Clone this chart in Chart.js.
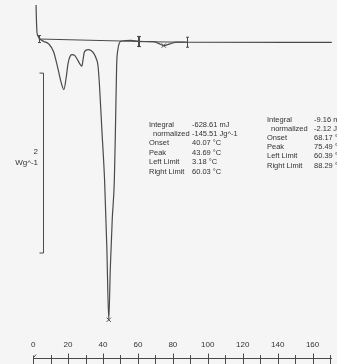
<!DOCTYPE html>
<html>
<head>
<meta charset="utf-8">
<script src="https://cdn.jsdelivr.net/npm/chart.js@4/dist/chart.umd.min.js"></script>
<style>
  html, body { margin: 0; padding: 0; background: #f5f5f5; }
  canvas { display: block; }
</style>
</head>
<body>
<canvas id="dsc" width="337" height="364"></canvas>
<script>
// DSC trace: temperature (°C) vs heat flow (W/g, 0 = baseline level)
const temps = [1.56, 1.8, 2.2, 2.8, 3.9, 6.1, 8.9, 11.7, 14.4, 16.1, 17.6, 18.9, 20.0, 21.1, 22.2,
  23.9, 25.6, 26.9, 27.9, 28.6, 29.4, 31.5, 33.3, 34.8, 36.1, 37.1, 37.9, 39.4, 40.9, 42.2, 43.3,
  44.2, 45.3, 46.5, 47.2, 47.8, 48.6, 49.4, 50.6, 56.1, 60.6, 68.9, 71.7, 74.8, 78.3, 82.2, 88.3, 171];
const heatFlow = [0.5, 0.28, 0.086, 0.043, 0.011, -0.016, -0.043, -0.13, -0.335, -0.476, -0.551, -0.42,
  -0.26, -0.184, -0.162, -0.173, -0.227, -0.27, -0.292, -0.216, -0.13, -0.108, -0.119, -0.151, -0.205,
  -0.281, -0.476, -1.016, -1.557, -2.31, -3.11, -2.53, -1.99, -1.557, -0.91, -0.292, -0.097, -0.032,
  -0.011, -0.005, -0.016, -0.019, -0.038, -0.062, -0.043, -0.024, -0.025, -0.027];

// integration limits and peaks
const limitTemps = [3.18, 60.03, 60.39, 88.29];
const limitFlow = [0.011, -0.016, -0.018, -0.025];
const peakTemps = [43.3, 74.8];
const peakFlow = [-3.11, -0.062];

const xTicks = [0, 20, 40, 60, 80, 100, 120, 140, 160];
const scaleBar = 2; // W/g
const scaleUnit = 'Wg^-1';

const resultLabels = ['Integral', 'normalized', 'Onset', 'Peak', 'Left Limit', 'Right Limit'];
const resultPeak1 = ['-628.61 mJ', '-145.51 Jg^-1', '40.07 °C', '43.69 °C', '3.18 °C', '60.03 °C'];
const resultPeak2 = ['-9.16 mJ', '-2.12 Jg^-1', '68.17 °C', '75.49 °C', '60.39 °C', '88.29 °C'];

const ink = '#4a4a4a';
const font = '"Liberation Sans", Arial, sans-serif';

const curve = temps.map((t, i) => ({ x: t, y: heatFlow[i] }));
const base1 = [{ x: limitTemps[0], y: limitFlow[0] }, { x: limitTemps[1], y: limitFlow[1] }];
const base2 = [{ x: limitTemps[2], y: limitFlow[2] }, { x: limitTemps[3], y: limitFlow[3] }];
const peaks = peakTemps.map((t, i) => ({ x: t, y: peakFlow[i] }));

const decor = {
  id: 'decor',
  beforeDraw(chart) {
    const c = chart.ctx;
    c.save();
    c.fillStyle = '#f5f5f5';
    c.fillRect(0, 0, chart.width, chart.height);
    c.restore();
  },
  afterDraw(chart) {
    const c = chart.ctx;
    const x = chart.scales.x, y = chart.scales.y;
    c.save();
    c.strokeStyle = ink;
    c.fillStyle = '#333';
    c.lineWidth = 1;

    // limit markers (small I-beams)
    limitTemps.forEach((t, i) => {
      const px = Math.round(x.getPixelForValue(t)) + 0.5;
      const py = y.getPixelForValue(limitFlow[i]);
      const h = i === 0 ? 3.5 : 5;
      c.beginPath();
      c.moveTo(px, py - h); c.lineTo(px, py + h);
      c.moveTo(px - 1.5, py - h); c.lineTo(px + 1.5, py - h);
      c.moveTo(px - 1.5, py + h); c.lineTo(px + 1.5, py + h);
      c.stroke();
    });

    // x axis
    const ay = 358.5;
    const x0 = x.getPixelForValue(0);
    c.beginPath();
    c.moveTo(x0, ay); c.lineTo(chart.chartArea.right, ay);
    for (let t = 10; t <= 170; t += 10) {
      const px = Math.round(x.getPixelForValue(t)) + 0.5;
      const major = t % 20 === 0;
      c.moveTo(px, major ? ay - 5 : ay - 3.5);
      c.lineTo(px, ay + 6);
    }
    c.moveTo(Math.round(x0) + 0.5, ay - 3); c.lineTo(Math.round(x0) + 0.5, ay + 6);
    c.moveTo(x0, ay - 0.5); c.lineTo(x0 + 3, ay - 4);
    c.stroke();

    c.font = '8px ' + font;
    c.textAlign = 'center';
    c.textBaseline = 'middle';
    xTicks.forEach(t => c.fillText(String(t), x.getPixelForValue(t), 345));

    // y scale bar
    const bx = 43.5;
    const top = y.getPixelForValue(-0.368);
    const bot = y.getPixelForValue(-0.368 - scaleBar);
    c.beginPath();
    c.moveTo(bx - 4, top); c.lineTo(bx, top); c.lineTo(bx, bot); c.lineTo(bx - 4, bot);
    c.stroke();
    c.textAlign = 'right';
    c.fillText(String(scaleBar), 38, 152);
    c.fillText(scaleUnit, 38, 163);

    // result tables
    c.font = '7.5px ' + font;
    c.textAlign = 'left';
    const table = (vals, lx, vx, y0, step) => {
      resultLabels.forEach((lab, i) => {
        c.fillText(lab, i === 1 ? lx + 4 : lx, y0 + i * step);
        c.fillText(vals[i], vx, y0 + i * step);
      });
    };
    table(resultPeak1, 149, 192, 124.5, 9.4);
    table(resultPeak2, 267, 314, 119.5, 9.2);
    c.restore();
  }
};

new Chart(document.getElementById('dsc'), {
  type: 'line',
  data: {
    datasets: [
      { data: curve, borderColor: ink, borderWidth: 1.2, pointRadius: 0, cubicInterpolationMode: 'monotone' },
      { data: base1, borderColor: ink, borderWidth: 1, pointRadius: 0 },
      { data: base2, borderColor: ink, borderWidth: 1, pointRadius: 0 },
      { type: 'scatter', data: peaks, pointStyle: 'crossRot', pointRadius: 3, borderColor: ink, borderWidth: 1 }
    ]
  },
  options: {
    responsive: false,
    animation: false,
    layout: { padding: 0 },
    plugins: { legend: { display: false }, tooltip: { enabled: false } },
    scales: {
      x: { type: 'linear', display: false, min: -16.11, max: 171.11 },
      y: { type: 'linear', display: false, min: -3.546, max: 0.389 }
    }
  },
  plugins: [decor]
});
</script>
</body>
</html>
